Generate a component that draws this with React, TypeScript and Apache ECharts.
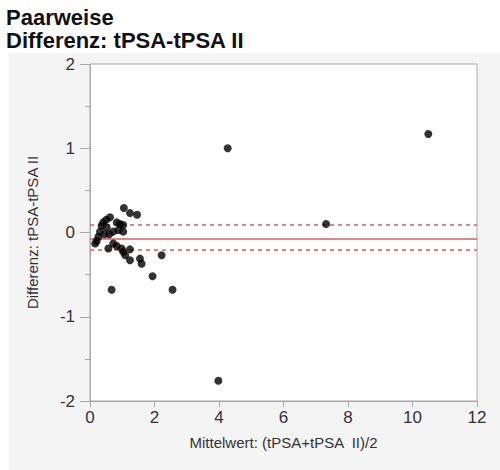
import React, { useEffect, useRef } from "react";
import * as echarts from "echarts";

// Mean of the two measurements, (tPSA + tPSA II) / 2
const meanValues = [
  4.27, 10.49, 7.32, 3.98, 2.56, 0.67,
  1.05, 1.24, 1.46, 0.62, 0.5, 0.41, 0.36, 0.52, 0.83, 0.93, 1.03, 0.88,
  0.72, 0.31, 0.45, 1.03, 0.26, 0.21, 0.16, 0.6,
  0.57, 0.72, 0.83, 0.98, 1.03, 1.24, 1.09, 1.24, 1.55, 1.6, 2.22, 1.94,
];

// Difference of the two measurements, tPSA - tPSA II
const diffValues = [
  1.0, 1.17, 0.1, -1.76, -0.68, -0.68,
  0.29, 0.23, 0.21, 0.18, 0.15, 0.12, 0.08, 0.06, 0.12, 0.1, 0.09, 0.03,
  0.01, 0.01, -0.02, 0.01, -0.05, -0.1, -0.13, -0.02,
  -0.19, -0.13, -0.16, -0.19, -0.23, -0.2, -0.27, -0.33, -0.31, -0.37, -0.27, -0.52,
];

// Mean difference and its confidence limits
const meanDiff = -0.07;
const upperLimit = 0.09;
const lowerLimit = -0.2;

const xTicks = { min: 0, max: 12, interval: 2 };
const yTicks = { min: -2, max: 2, interval: 1 };

const titleLines = ["Paarweise", "Differenz: tPSA-tPSA II"];

const FONT = "'Liberation Sans', Arial, Helvetica, sans-serif";
const RED = "#dc5a64";

export default function App() {
  const ref = useRef<HTMLDivElement>(null);

  useEffect(() => {
    if (!ref.current) return;
    const chart = echarts.init(ref.current, undefined, { renderer: "svg" });
    const points = meanValues.map((x, i) => [x, diffValues[i]]);

    chart.setOption({
      animation: false,
      backgroundColor: "#ffffff",
      title: titleLines.map((line, i) => ({
        text: line,
        left: 6,
        top: 6 + i * 23,
        padding: 0,
        textStyle: {
          fontFamily: FONT,
          fontSize: 22,
          fontWeight: "bold",
          color: "#111111",
          lineHeight: 22,
        },
      })),
      graphic: [
        {
          type: "rect",
          z: -10,
          silent: true,
          shape: { x: 9, y: 53, width: 491, height: 417 },
          style: { fill: "#f4f4f4" },
        },
      ],
      grid: {
        left: 90,
        right: 23,
        top: 64,
        bottom: 69,
        show: true,
        backgroundColor: "#ffffff",
        borderColor: "#a8a8a8",
        borderWidth: 1,
      },
      xAxis: {
        type: "value",
        min: xTicks.min,
        max: xTicks.max,
        interval: xTicks.interval,
        name: "Mittelwert: (tPSA+tPSA  II)/2",
        nameLocation: "middle",
        nameGap: 34,
        nameTextStyle: { fontFamily: FONT, fontSize: 15, color: "#333333" },
        axisLine: { show: true, onZero: false, lineStyle: { color: "#a8a8a8", width: 1 } },
        axisTick: { show: true, length: 6, lineStyle: { color: "#a8a8a8" } },
        axisLabel: { fontFamily: FONT, fontSize: 17, color: "#333333", margin: 8 },
        splitLine: { show: false },
      },
      yAxis: {
        type: "value",
        min: yTicks.min,
        max: yTicks.max,
        interval: yTicks.interval,
        name: "Differenz: tPSA-tPSA II",
        nameLocation: "middle",
        nameGap: 50,
        nameTextStyle: { fontFamily: FONT, fontSize: 15, color: "#333333" },
        axisLine: { show: true, onZero: false, lineStyle: { color: "#a8a8a8", width: 1 } },
        axisTick: { show: true, length: 10, lineStyle: { color: "#a8a8a8" } },
        minorTick: { show: true, splitNumber: 2, length: 5, lineStyle: { color: "#a8a8a8" } },
        axisLabel: { fontFamily: FONT, fontSize: 17, color: "#333333", margin: 15 },
        splitLine: { show: false },
      },
      series: [
        {
          type: "scatter",
          data: points,
          symbol: "circle",
          symbolSize: 8,
          itemStyle: { color: "#000000" },
          z: 5,
          markLine: {
            silent: true,
            symbol: "none",
            label: { show: false },
            data: [
              { yAxis: meanDiff, lineStyle: { type: "solid", color: RED, width: 1.5 } },
              { yAxis: upperLimit, lineStyle: { type: [4, 4], color: RED, width: 1.5 } },
              { yAxis: lowerLimit, lineStyle: { type: [4, 4], color: RED, width: 1.5 } },
            ],
          },
        },
      ],
    });

    return () => chart.dispose();
  }, []);

  return (
    <div
      ref={ref}
      style={{ position: "fixed", left: 0, top: 0, width: 500, height: 470 }}
    />
  );
}
